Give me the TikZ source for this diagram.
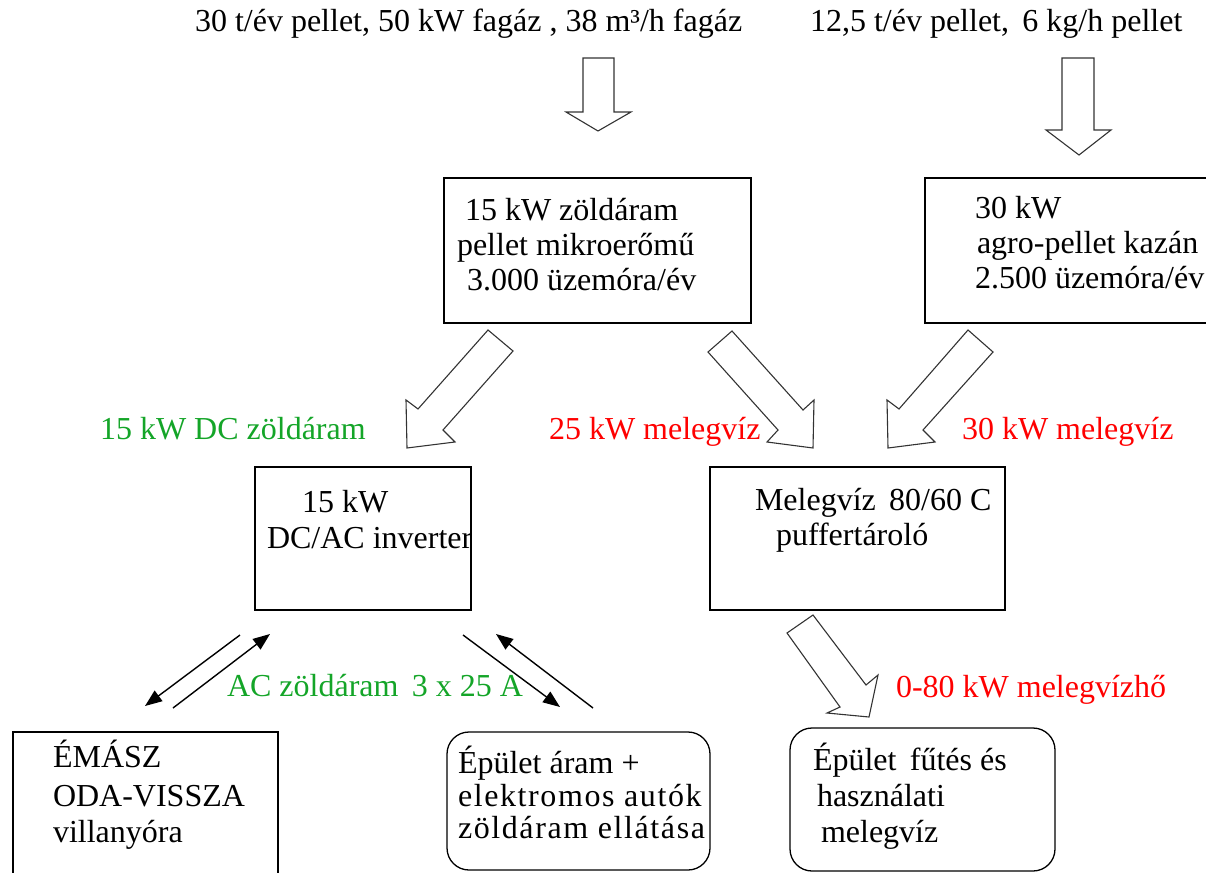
\documentclass[tikz,border=0pt]{standalone}
\usepackage{fontspec}
\setmainfont{Liberation Serif}
\usetikzlibrary{arrows.meta}
\definecolor{grn}{RGB}{20,165,40}
\definecolor{rd}{RGB}{255,0,0}
\begin{document}
\begin{tikzpicture}[x=1pt,y=-1pt,
  every node/.style={font=\fontsize{32}{37}\selectfont, inner sep=0pt, outer sep=0pt},
  txt/.style={anchor=base west},
  widetxt/.style={txt, font=\fontsize{32}{37}\selectfont\addfontfeatures{LetterSpace=5}},
  boxst/.style={draw, line width=1.3pt, anchor=north west},
  rbox/.style={boxst, rounded corners=22pt},
  blk/.style={draw=black!80, line width=1.1pt, fill=white, line join=miter},
  thinarr/.style={line width=1.4pt, -{Triangle[length=17pt,width=13pt]}}]
\useasboundingbox (0,0) rectangle (1206,872);
\clip (0,0) rectangle (1206,872);
% top texts
\node[txt] (in1) at (195,32) {30 t/év pellet, 50 kW fagáz , 38 m³/h fagáz};
\node[txt] (in2) at (810,32) {12,5 t/év pellet,\, 6 kg/h pellet};
% top block arrows
\draw[blk] (583,58) -- (614,58) -- (614,112) -- (631,112) -- (598,131) -- (566,112) -- (583,112) -- cycle;
\draw[blk] (1062,58) -- (1094,58) -- (1094,130) -- (1111,130) -- (1079,155) -- (1046,130) -- (1062,130) -- cycle;
% boxes row 1
\node[boxst, minimum width=307pt, minimum height=145pt] (micro) at (444,178) {};
\node[txt] at (465,220) {15 kW zöldáram};
\node[txt] at (457,255) {pellet mikroerőmű};
\node[txt] at (467,290) {3.000 üzemóra/év};
\node[boxst, minimum width=320pt, minimum height=145pt] (kazan) at (925,178) {};
\node[txt] at (975,218) {30 kW};
\node[txt] at (977,253) {agro-pellet kazán};
\node[txt] at (975,288) {2.500 üzemóra/év};
% diagonal block arrows
\draw[blk] (488,330) -- (513,351) -- (443,430) -- (455,442) -- (407,448) -- (406,400) -- (418,409) -- cycle;
\draw[blk] (732,331) -- (803,410) -- (814,400) -- (813,448) -- (767,442) -- (778,430) -- (708,352) -- cycle;
\draw[blk] (968,330) -- (993,352) -- (923,430) -- (935,442) -- (888,448) -- (887,400) -- (899,409) -- cycle;
% labels row
\node[txt, text=grn] at (100,439) {15 kW DC zöldáram};
\node[txt, text=rd] at (549,439) {25 kW melegvíz};
\node[txt, text=rd] at (962,439) {30 kW melegvíz};
% middle boxes
\node[boxst, minimum width=216pt, minimum height=143pt] (inv) at (255,467) {};
\node[txt] at (302,512) {15 kW};
\node[txt] at (267,548) {DC/AC inverter};
\node[boxst, minimum width=295pt, minimum height=143pt] (puf) at (710,467) {};
\node[txt] at (755,510) {Melegvíz\, 80/60 C};
\node[txt] at (776,545) {puffertároló};
% thin arrows
\coordinate (a1s) at (240,635); \coordinate (a1e) at (145,706);
\coordinate (a2s) at (173,708); \coordinate (a2e) at (270,634);
\coordinate (a3s) at (463,635); \coordinate (a3e) at (560,707);
\coordinate (a4s) at (593,708); \coordinate (a4e) at (496,634);
\draw[thinarr] (a1s) -- (a1e);
\draw[thinarr] (a2s) -- (a2e);
\draw[thinarr] (a3s) -- (a3e);
\draw[thinarr] (a4s) -- (a4e);
\node[txt, text=grn] at (227,696) {AC zöldáram\, 3 x 25 A};
% puffer -> heating arrow
\draw[blk] (813,615) -- (866,685) -- (878,675) -- (869,717) -- (827,713) -- (840,707) -- (787,633) -- cycle;
\node[txt, text=rd] at (896,697) {0-80 kW melegvízhő};
% bottom boxes
\node[boxst, minimum width=265pt, minimum height=170pt] (emasz) at (13,732) {};
\node[txt] at (53,767) {ÉMÁSZ};
\node[txt] at (53,806) {ODA-VISSZA};
\node[txt] at (53,842) {villanyóra};
\node[rbox, minimum width=263pt, minimum height=138pt] (epa) at (447,732) {};
\node[txt] at (458,773) {Épület áram +};
\node[widetxt] at (458,806) {elektromos autók};
\node[widetxt] at (458,838) {zöldáram ellátása};
\node[rbox, minimum width=265pt, minimum height=143pt] (epf) at (790,728) {};
\node[txt] at (813,770) {Épület\, fűtés és};
\node[txt] at (817,806) {használati};
\node[txt] at (821,842) {melegvíz};
\end{tikzpicture}
\end{document}
